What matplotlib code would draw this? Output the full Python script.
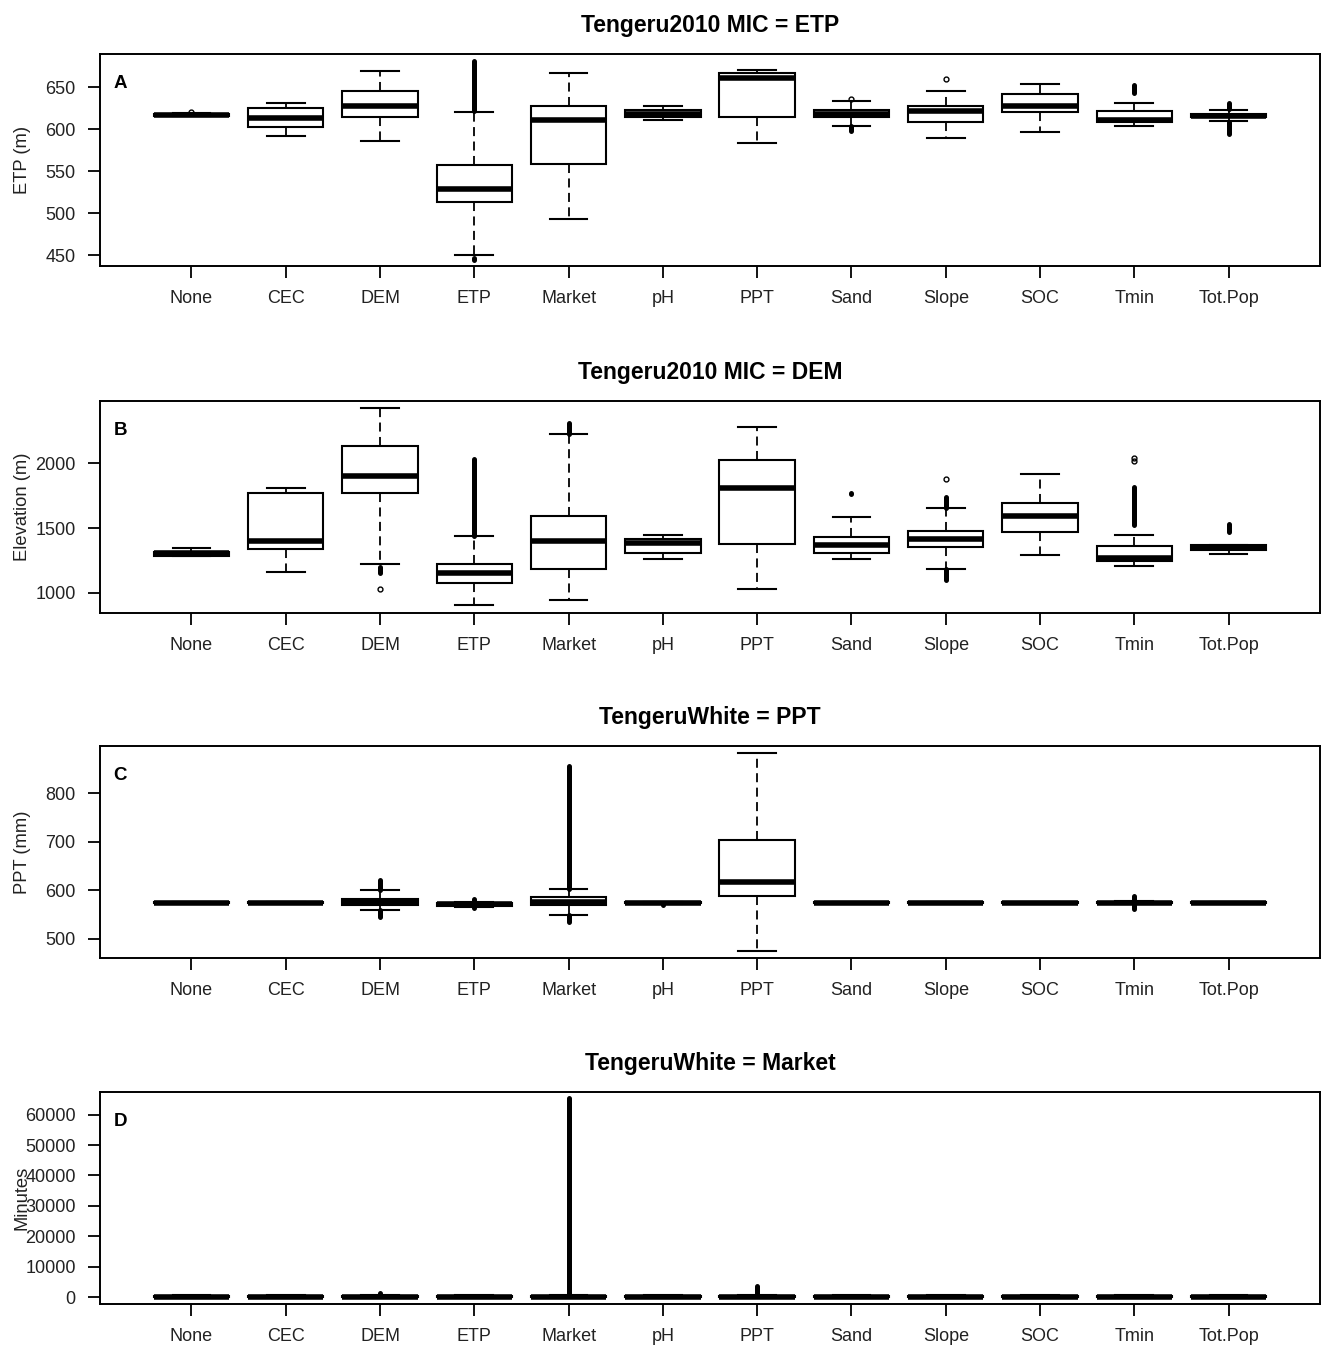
import matplotlib.pyplot as plt

plt.rcParams['font.family'] = ['Liberation Sans', 'DejaVu Sans']

categories = ['None', 'CEC', 'DEM', 'ETP', 'Market', 'pH', 'PPT', 'Sand', 'Slope', 'SOC', 'Tmin', 'Tot.Pop']

# A: Tengeru2010 MIC = ETP
etp_lo = [616, 592, 586, 450, 493, 611, 584, 604.5, 590, 596.5, 604.5, 609.5]
etp_q1 = [616.5, 602.5, 615, 513.5, 559, 615, 615, 615, 608.5, 620.5, 608.5, 615]
etp_med = [617.5, 613, 627.5, 528.5, 611, 618.5, 661, 618.5, 621.5, 627.5, 611.5, 616.5]
etp_q3 = [618.5, 625.5, 646, 557, 627.5, 623.5, 667, 623.5, 627.5, 642, 621.5, 618.5]
etp_hi = [619, 632, 670, 621, 667, 628, 671, 634, 646, 654.5, 631.5, 623.5]
# outliers: (low, high) ranges, a single value when low == high
etp_out = [[(621, 621)], [], [], [(622, 682), (444, 447)], [], [], [],
           [(636, 636), (598, 604)], [(660, 660)], [], [(643, 653)],
           [(624, 631), (594, 609)]]

# B: Tengeru2010 MIC = DEM
dem_lo = [1285, 1159, 1226, 905, 944, 1264, 1033, 1264, 1182, 1290, 1208, 1303]
dem_q1 = [1288, 1341, 1772, 1077, 1182, 1310, 1380, 1310, 1354, 1474, 1246, 1328]
dem_med = [1305, 1400, 1905, 1156, 1400, 1385, 1810, 1367, 1413, 1597, 1269, 1349]
dem_q3 = [1320, 1772, 2136, 1226, 1597, 1413, 2028, 1431, 1482, 1692, 1362, 1374]
dem_hi = [1346, 1810, 2426, 1438, 2226, 1451, 2282, 1585, 1654, 1918, 1451, 1374]
dem_out = [[], [], [(1154, 1200), (1033, 1033)], [(1440, 2033)], [(2226, 2315)], [], [],
           [(1760, 1768)], [(1654, 1738), (1097, 1182), (1880, 1880)], [],
           [(1521, 1815), (2022, 2022), (2045, 2045)], [(1469, 1533)]]

# C: TengeruWhite = PPT
ppt_lo = [573, 573, 560, 566, 548, 572, 474, 573, 573, 573, 571, 573]
ppt_q1 = [573.5, 573.5, 569, 568, 569, 573, 588, 573.5, 573.5, 573.5, 573, 573.5]
ppt_med = [574, 574, 576, 570.5, 576, 574, 617, 574, 574, 574, 574, 574]
ppt_q3 = [575, 575, 582, 573, 586, 575, 704, 575, 575, 575, 575, 575]
ppt_hi = [575.5, 575.5, 600, 575, 603, 576, 883, 575.5, 575.5, 575.5, 577, 575.5]
ppt_out = [[], [], [(600, 620), (545, 560)], [(576, 581), (564, 566)],
           [(603, 856), (534, 548)], [(570, 571)], [], [], [], [],
           [(578, 587), (562, 570)], []]

# D: TengeruWhite = Market
mkt_lo = [0, 0, 0, 0, 0, 0, 0, 0, 0, 0, 0, 0]
mkt_q1 = [60, 60, 60, 60, 60, 60, 60, 60, 60, 60, 60, 60]
mkt_med = [150, 150, 150, 150, 150, 150, 150, 150, 150, 150, 150, 150]
mkt_q3 = [300, 300, 300, 300, 300, 300, 300, 300, 300, 300, 300, 300]
mkt_hi = [700, 700, 700, 700, 700, 700, 700, 700, 700, 700, 700, 700]
mkt_out = [[], [], [(700, 1300)], [], [(700, 65600)], [], [(700, 3600)], [], [], [], [], []]

panels = [
    ('Tengeru2010 MIC = ETP', 'ETP (m)', 'A', etp_lo, etp_q1, etp_med, etp_q3, etp_hi, etp_out,
     (437, 690), [450, 500, 550, 600, 650]),
    ('Tengeru2010 MIC = DEM', 'Elevation (m)', 'B', dem_lo, dem_q1, dem_med, dem_q3, dem_hi, dem_out,
     (846, 2482), [1000, 1500, 2000]),
    ('TengeruWhite = PPT', 'PPT (mm)', 'C', ppt_lo, ppt_q1, ppt_med, ppt_q3, ppt_hi, ppt_out,
     (460, 897), [500, 600, 700, 800]),
    ('TengeruWhite = Market', 'Minutes', 'D', mkt_lo, mkt_q1, mkt_med, mkt_q3, mkt_hi, mkt_out,
     (-2300, 67450), [0, 10000, 20000, 30000, 40000, 50000, 60000]),
]
bottoms = [0.8027, 0.5453, 0.2893, 0.0326]

fig = plt.figure(figsize=(13.25, 13.48), dpi=100)
pos = list(range(1, len(categories) + 1))

for i, (title, ylabel, letter, lo, q1, med, q3, hi, out, ylim, yticks) in enumerate(panels):
    ax = fig.add_axes([0.0755, bottoms[i], 0.9208, 0.1573])
    stats = [dict(whislo=lo[j], q1=q1[j], med=med[j], q3=q3[j], whishi=hi[j], fliers=[])
             for j in range(len(categories))]
    ax.bxp(stats, positions=pos, widths=0.8, patch_artist=True, showfliers=False,
           boxprops=dict(facecolor='white', edgecolor='black', linewidth=1.5),
           medianprops=dict(color='black', linewidth=4.0, solid_capstyle='butt'),
           whiskerprops=dict(color='black', linewidth=1.3, linestyle=(0, (5, 3))),
           capprops=dict(color='black', linewidth=1.5))
    for j, ranges in enumerate(out):
        for a, b in ranges:
            if a == b:
                ax.plot(pos[j], a, marker='o', ms=3.5, mfc='none', mec='black', mew=1)
            else:
                ax.vlines(pos[j], a, b, color='black', linewidth=3.6, capstyle='round')

    ax.set_xlim(0.03, 12.97)
    ax.set_ylim(*ylim)
    ax.set_xticks(pos, categories)
    ax.set_yticks(yticks, [str(t) for t in yticks])
    ax.tick_params(length=8.5, width=1.3, pad=9, labelsize=13, labelcolor='#222222')
    for s in ax.spines.values():
        s.set_linewidth(1.4)
    ax.set_title(title, fontsize=16.5, fontweight='bold', pad=15.5)
    # label sits at a fixed distance from the axis, as in the source (overlaps in D)
    ax.set_ylabel(ylabel, fontsize=13.2, color='#222222')
    ax.yaxis.set_label_coords(-0.0566, 0.5)
    ax.text(0.011, 0.838, letter, transform=ax.transAxes, fontsize=13.5, fontweight='bold',
            va='baseline')

fig.savefig('out.png', dpi=100)
